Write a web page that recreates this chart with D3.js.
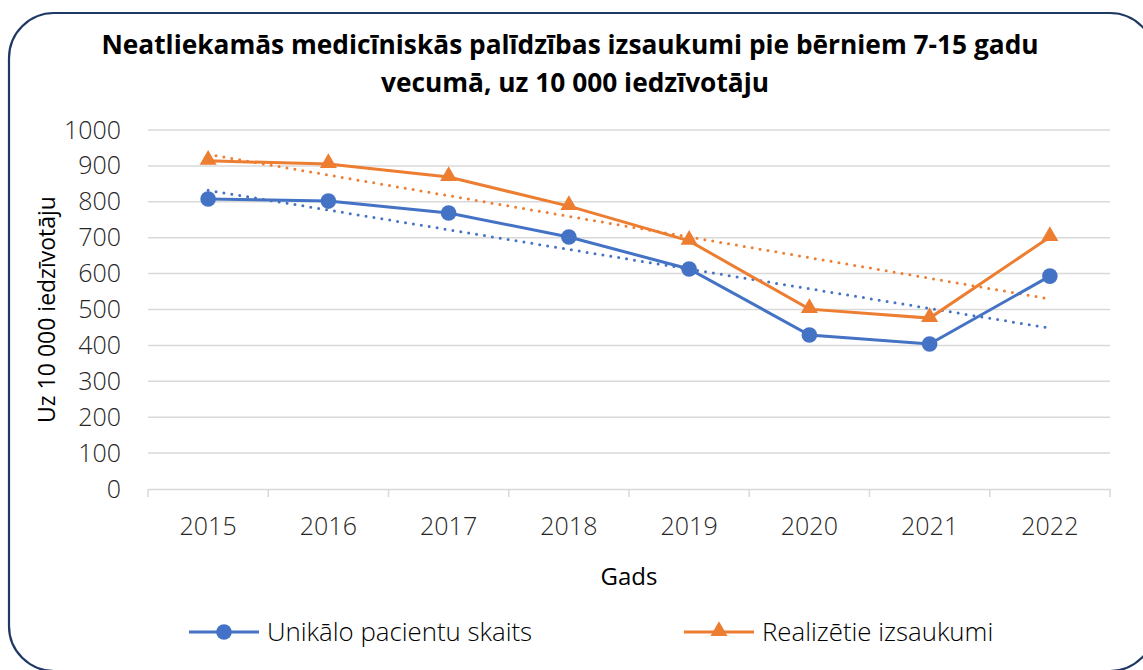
<!DOCTYPE html>
<html>
<head>
<meta charset="utf-8">
<script src="https://cdn.jsdelivr.net/npm/d3@7"></script>
<style>
  body { margin: 0; background: #fff; }
  svg { display: block; }
  svg text { font-family: "Open Sans", Lato, sans-serif; }
</style>
</head>
<body>
<svg id="chart" width="1143" height="670"></svg>
<script>
// dati nolasīti no attēla
const years = ["2015", "2016", "2017", "2018", "2019", "2020", "2021", "2022"];
const uniqPatients = [808, 802, 769, 702, 613, 429, 404, 593];
const calls = [914, 905, 869, 788, 691, 501, 476, 702];
const yTicks = [0, 100, 200, 300, 400, 500, 600, 700, 800, 900, 1000];
const titleLines = ["Neatliekamās medicīniskās palīdzības izsaukumi pie bērniem 7-15 gadu", "vecumā, uz 10 000 iedzīvotāju"];

const width = 1143, height = 670;
const margin = { top: 130, right: 33, bottom: 181, left: 148 };
const svg = d3.select("#chart");

// rāmis
svg.append("rect")
  .attr("x", 9).attr("y", 13)
  .attr("width", 1146).attr("height", 658)
  .attr("rx", 45).attr("ry", 45)
  .attr("fill", "#fff")
  .attr("stroke", "#1f3864").attr("stroke-width", 2.2);

const x = d3.scaleBand().domain(years).range([margin.left, width - margin.right]);
const y = d3.scaleLinear().domain([0, 1000]).range([height - margin.bottom, margin.top]);

// režģis
svg.append("g")
  .selectAll("line")
  .data(yTicks.filter(d => d > 0))
  .enter().append("line")
  .attr("x1", margin.left).attr("x2", width - margin.right)
  .attr("y1", d => y(d)).attr("y2", d => y(d))
  .attr("stroke", "#d9d9d9").attr("stroke-width", 1.5);

// x ass
const xAxis = svg.append("g")
  .attr("transform", `translate(0,${y(0)})`)
  .call(d3.axisBottom(x).tickSize(0).tickPadding(28));
xAxis.select(".domain").attr("stroke", "#d9d9d9").attr("stroke-width", 1.5);
xAxis.selectAll("text").attr("font-size", 25).attr("font-weight", 300).attr("fill", "#262626");
// iedaļas starp kategorijām
svg.append("g")
  .selectAll("line")
  .data(years.concat(["end"]))
  .enter().append("line")
  .attr("x1", (d, i) => margin.left + i * x.step())
  .attr("x2", (d, i) => margin.left + i * x.step())
  .attr("y1", y(0)).attr("y2", y(0) + 8)
  .attr("stroke", "#d9d9d9").attr("stroke-width", 1.5);

// y ass
const yAxis = svg.append("g")
  .attr("transform", `translate(${margin.left},0)`)
  .call(d3.axisLeft(y).tickValues(yTicks).tickFormat(d3.format("d")).tickSize(0).tickPadding(27));
yAxis.select(".domain").remove();
yAxis.selectAll("text").attr("font-size", 25).attr("font-weight", 300).attr("fill", "#262626");

// virsraksts
svg.append("text")
  .attr("x", 571).attr("y", 54)
  .attr("text-anchor", "middle")
  .attr("font-size", 26.3).attr("font-weight", "bold").attr("fill", "#000")
  .selectAll("tspan")
  .data(titleLines)
  .enter().append("tspan")
  .attr("x", (d, i) => i === 0 ? 570 : 575)
  .attr("dy", (d, i) => i === 0 ? 0 : 38)
  .text(d => d);

// asu nosaukumi
svg.append("text")
  .attr("transform", `translate(55,${(y(0) + y(1000)) / 2}) rotate(-90)`)
  .attr("text-anchor", "middle")
  .attr("font-size", 23).attr("fill", "#000")
  .text("Uz 10 000 iedzīvotāju");

svg.append("text")
  .attr("x", (margin.left + width - margin.right) / 2).attr("y", 585)
  .attr("text-anchor", "middle")
  .attr("font-size", 24).attr("fill", "#000")
  .text("Gads");

const cx = d => x(d) + x.bandwidth() / 2;

// lineārā tendence
function trend(vals) {
  const n = vals.length;
  const mx = d3.mean(vals, (v, i) => i);
  const my = d3.mean(vals);
  const sxy = d3.sum(vals, (v, i) => (i - mx) * (v - my));
  const sxx = d3.sum(vals, (v, i) => (i - mx) * (i - mx));
  const b = sxy / sxx;
  return [[0, my - b * mx], [n - 1, my + b * (n - 1 - mx)]];
}

const series = [
  { name: "Unikālo pacientu skaits", values: uniqPatients, color: "#4472c4", marker: "circle" },
  { name: "Realizētie izsaukumi", values: calls, color: "#ed7d31", marker: "triangle" }
];

const line = d3.line().x((d, i) => cx(years[i])).y(d => y(d));
const trendLine = d3.line().x(d => cx(years[d[0]])).y(d => y(d[1]));

function drawMarker(g, type, color) {
  if (type === "circle") {
    g.append("circle").attr("r", 7.8).attr("fill", color);
  } else {
    g.append("path").attr("d", d3.symbol().type(d3.symbolTriangle).size(125)())
      .attr("transform", "translate(0,-1)")
      .attr("fill", color);
  }
}

series.forEach(s => {
  svg.append("path")
    .attr("d", trendLine(trend(s.values)))
    .attr("fill", "none").attr("stroke", s.color)
    .attr("stroke-width", 3).attr("stroke-linecap", "round")
    .attr("stroke-dasharray", "0 8");
});

series.forEach(s => {
  svg.append("path")
    .attr("d", line(s.values))
    .attr("fill", "none").attr("stroke", s.color).attr("stroke-width", 3);
  s.values.forEach((v, i) => {
    const g = svg.append("g").attr("transform", `translate(${cx(years[i])},${y(v)})`);
    drawMarker(g, s.marker, s.color);
  });
});

// leģenda
const legendX = [189, 684];
series.forEach((s, i) => {
  const g = svg.append("g").attr("transform", `translate(${legendX[i]},632)`);
  g.append("line").attr("x1", 0).attr("x2", 70).attr("stroke", s.color).attr("stroke-width", 3);
  const m = g.append("g").attr("transform", "translate(35,0)");
  drawMarker(m, s.marker, s.color);
  g.append("text").attr("x", 78).attr("dy", "0.35em")
    .attr("font-size", 25.8).attr("font-weight", 300).attr("fill", "#000")
    .text(s.name);
});
</script>
</body>
</html>
